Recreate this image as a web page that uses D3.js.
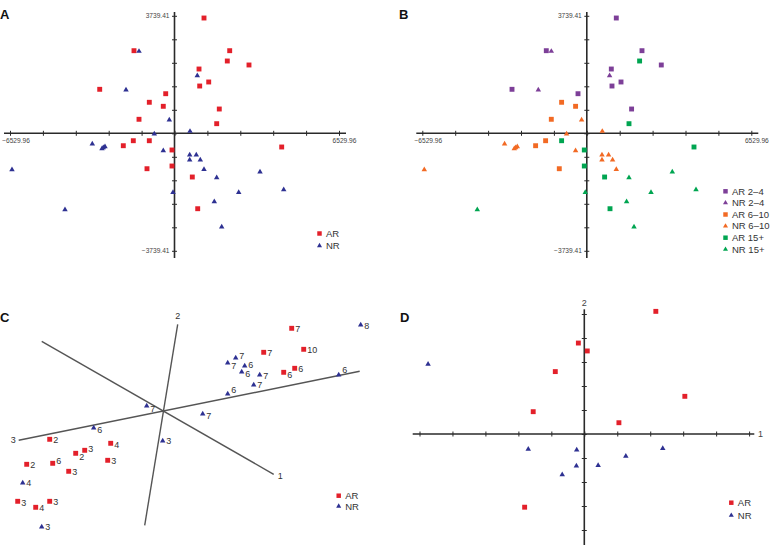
<!DOCTYPE html>
<html><head><meta charset="utf-8">
<script src="https://cdn.jsdelivr.net/npm/d3@7"></script>
<style>
html,body{margin:0;padding:0;background:#fff;}
svg{display:block;font-family:"Liberation Sans",Arial,sans-serif;}
</style></head>
<body><svg id="chart" width="772" height="545"></svg>
<script>
// ---------- Data (panels A and B) ----------
const axisMaxX = 6529.96;
const axisMaxY = 3739.41;
const arX = [1171,-1608,2191,2096,2957,973,1358,-2969,1000,-349,-1000,-445,1778,-1409,1675,4255,-2032,-1635,-1000,-99,-99,-1092,707,921];
const arY = [3669,2629,2629,2301,2174,2046,1633,1400,1505,1260,987,859,773,446,306,-436,-395,-236,-236,-531,-1041,-1127,-1391,-2400];
const arGroup = ["2–4","2–4","2–4","15+","2–4","2–4","2–4","2–4","2–4","2–4","6–10","6–10","2–4","6–10","15+","15+","6–10","6–10","15+","15+","15+","6–10","15+","15+"];
const nrX = [-1409,905,-1925,-206,615,-802,-3263,-2759,-2826,-2878,-445,603,865,603,1024,1171,-6451,1675,3394,4335,-60,2549,1580,-4347,1874];
const nrY = [2629,1855,1400,446,83,0,-318,-404,-436,-468,-531,-668,-668,-827,-827,-1127,-1136,-1391,-1209,-1773,-1859,-1859,-2155,-2409,-2960];
const nrGroup = ["2–4","2–4","2–4","6–10","6–10","6–10","6–10","6–10","6–10","6–10","6–10","6–10","6–10","6–10","6–10","6–10","6–10","15+","15+","15+","15+","15+","15+","15+","15+"];
const groups = ["2–4","6–10","15+"];
const classes = ["AR","NR"];

// ---------- Data (panel C) ----------
const cArX = [12.9,10.1,14.1,13.2,12.1,-11.3,-5.2,-8.7,-7.8,-13.6,-11.0,-5.5,-9.4,-14.5,-11.3,-12.7];
const cArY = [8.3,5.9,6.2,4.3,3.9,-2.8,-3.2,-4.2,-3.9,-5.3,-5.2,-4.9,-6.0,-9.0,-9.0,-9.6];
const cArLabel = ["7","7","10","6","6","2","4","2","3","2","6","3","3","3","3","4"];
const cNrX = [19.8,7.3,6.5,8.2,7.9,9.7,9.1,6.5,17.6,-1.6,4.0,-6.9,0.0,-14.0,-12.1];
const cNrY = [8.7,5.4,4.9,4.6,4.0,3.7,2.7,1.8,3.7,0.6,-0.2,-1.6,-2.9,-7.1,-11.5];
const cNrLabel = ["8","7","7","6","6","7","7","6","6","7","7","6","3","4","3"];
const cAxisNames = ["1","2","3"];
const cAxisStartX = [-12.1,1.5,-14.4];
const cAxisStartY = [7.0,8.7,-2.9];
const cAxisEndX = [11.1,-1.8,19.7];
const cAxisEndY = [-6.3,-11.4,4.0];

// ---------- Data (panel D) ----------
const dArX = [2.17,-0.18,0.09,-0.88,3.05,-1.55,1.05,-1.81];
const dArY = [5.11,3.79,3.46,2.60,1.57,0.93,0.47,-3.05];
const dNrX = [-4.74,-1.70,-0.23,2.38,1.26,0.42,-0.24,-0.67];
const dNrY = [2.93,-0.61,-0.64,-0.58,-0.90,-1.28,-1.30,-1.67];
const dTicks = [-5,-4,-3,-2,-1,0,1,2,3,4,5];

// ---------- Styles ----------
const classColor = {AR:"#e3202a", NR:"#2e3192"};
const groupColor = {"2–4":"#7d3f98","6–10":"#f26a24","15+":"#00a551"};
const axisColor = "#2a2a2a";
// vertical nudges (px) of the point labels in panel C, as placed in the original
const cArLabelNudge = [0,0,0,0,2,0,1,3.3,-1.3,0,-2.3,0,0,1.3,0,0];
const cNrLabelNudge = [1,-2,3.7,-1,2.5,1,0,-3.7,-4.3,3,2.3,2,0.7,0,0];

const svg = d3.select("#chart");
const sq = d3.symbol().type(d3.symbolSquare).size(24);
const tri = d3.symbol().type(d3.symbolTriangle).size(13);
const sqL = d3.symbol().type(d3.symbolSquare).size(20);
const triL = d3.symbol().type(d3.symbolTriangle).size(11);

function crossAxes(g, x, y, xTicks, yTicks, hExt, vExt){
  const x0 = x(0), y0 = y(0);
  g.append("line").attr("x1",hExt[0]).attr("x2",hExt[1]).attr("y1",y0).attr("y2",y0)
    .attr("stroke",axisColor).attr("stroke-width",1.6);
  g.append("line").attr("x1",x0).attr("x2",x0).attr("y1",vExt[0]).attr("y2",vExt[1])
    .attr("stroke",axisColor).attr("stroke-width",1.6);
  const ax = g.append("g").attr("transform",`translate(0,${y0-2.5})`)
    .call(d3.axisBottom(x).tickValues(xTicks).tickSize(5).tickSizeOuter(0).tickFormat(""));
  ax.select(".domain").remove();
  ax.selectAll("line").attr("stroke",axisColor).attr("stroke-width",1);
  const ay = g.append("g").attr("transform",`translate(${x0+2.5},0)`)
    .call(d3.axisLeft(y).tickValues(yTicks).tickSize(5).tickSizeOuter(0).tickFormat(""));
  ay.select(".domain").remove();
  ay.selectAll("line").attr("stroke",axisColor).attr("stroke-width",1);
}

function panelLabel(txt, x, y){
  svg.append("text").attr("x",x).attr("y",y).attr("font-size",13).attr("font-weight","bold")
    .attr("fill","#111").text(txt);
}

function legend(g, items, lx, ly, step){
  items.forEach((it,i)=>{
    const yy = ly + i*step;
    g.append("path").attr("d", it.cls==="AR"?sqL:triL).attr("transform",`translate(${lx},${yy})`).attr("fill",it.color);
    g.append("text").attr("x",lx+6.5).attr("y",yy+3.3).attr("font-size",9.5).attr("fill","#333").text(it.label);
  });
}

function scatterAB(ox, colorFn, legendItems, legendX, legendY0, legendStep){
  const x = d3.scaleLinear().domain([-axisMaxX, axisMaxX]).range([ox+10, ox+339]);
  const y = d3.scaleLinear().domain([-axisMaxY, axisMaxY]).range([250.8, 15.8]);
  const g = svg.append("g");
  const xt = d3.range(11).map(i => -axisMaxX + i*axisMaxX/5);
  const yt = d3.range(11).map(i => -axisMaxY + i*axisMaxY/5);
  crossAxes(g, x, y, xt, yt, [ox+4, ox+346], [12, 258]);
  const fmt = d3.format(".2f");
  const lab = {fill:"#444","font-size":6.6};
  const t1 = g.append("text").attr("x",x(0)-5).attr("y",y(axisMaxY)+2.3).attr("text-anchor","end").text(fmt(axisMaxY));
  const t2 = g.append("text").attr("x",x(0)-5).attr("y",y(-axisMaxY)+2.3).attr("text-anchor","end").text("−"+fmt(axisMaxY));
  const t3 = g.append("text").attr("x",Math.max(x(-axisMaxX)-3, ox+16)).attr("y",y(0)+10).attr("text-anchor","middle").text("−"+fmt(axisMaxX));
  const t4 = g.append("text").attr("x",x(axisMaxX)+5.5).attr("y",y(0)+10).attr("text-anchor","middle").text(fmt(axisMaxX));
  [t1,t2,t3,t4].forEach(t=>{Object.entries(lab).forEach(([k,v])=>t.attr(k,v));});
  g.selectAll(".ar").data(arX.map((v,i)=>({x:v,y:arY[i],grp:arGroup[i],cls:"AR"}))).join("path")
    .attr("class","ar").attr("d",sq).attr("transform",d=>`translate(${x(d.x)},${y(d.y)})`).attr("fill",colorFn);
  g.selectAll(".nr").data(nrX.map((v,i)=>({x:v,y:nrY[i],grp:nrGroup[i],cls:"NR"}))).join("path")
    .attr("class","nr").attr("d",tri).attr("transform",d=>`translate(${x(d.x)},${y(d.y)+0.6})`).attr("fill",colorFn);
  legend(g, legendItems, legendX, legendY0, legendStep);
}

// Panel A
scatterAB(0, d=>classColor[d.cls], classes.map(c=>({cls:c,label:c,color:classColor[c]})), 319.5, 233.5, 12.2);
// Panel B
const bItems = [];
groups.forEach(gr=>classes.forEach(c=>bItems.push({cls:c,label:c+" "+gr,color:groupColor[gr]})));
scatterAB(412.3, d=>groupColor[d.grp], bItems, 725.5, 191.3, 11.6);

// Panel C
(function(){
  const x = d3.scaleLinear().domain([-10,10]).range([62.7,262.7]);
  const y = d3.scaleLinear().domain([-10,10]).range([511.3,311.3]);
  const g = svg.append("g");
  cAxisNames.forEach((n,i)=>{
    g.append("line").attr("x1",x(cAxisStartX[i])).attr("y1",y(cAxisStartY[i]))
      .attr("x2",x(cAxisEndX[i])).attr("y2",y(cAxisEndY[i]))
      .attr("stroke","#555").attr("stroke-width",1.4);
  });
  g.append("text").attr("x",x(cAxisEndX[0])+4).attr("y",y(cAxisEndY[0])+5).attr("font-size",9).attr("fill","#333").text(cAxisNames[0]);
  g.append("text").attr("x",x(cAxisStartX[1])).attr("y",y(cAxisStartY[1])-5).attr("text-anchor","middle").attr("font-size",9).attr("fill","#333").text(cAxisNames[1]);
  g.append("text").attr("x",x(cAxisStartX[2])-3).attr("y",y(cAxisStartY[2])+3).attr("text-anchor","end").attr("font-size",9).attr("fill","#333").text(cAxisNames[2]);
  const ar = cArX.map((v,i)=>({x:v,y:cArY[i],l:cArLabel[i],n:cArLabelNudge[i]}));
  const nr = cNrX.map((v,i)=>({x:v,y:cNrY[i],l:cNrLabel[i],n:cNrLabelNudge[i]}));
  g.selectAll(".car").data(ar).join("path").attr("class","car").attr("d",sq).attr("transform",d=>`translate(${x(d.x)},${y(d.y)})`).attr("fill",classColor.AR);
  g.selectAll(".cnr").data(nr).join("path").attr("class","cnr").attr("d",tri).attr("transform",d=>`translate(${x(d.x)},${y(d.y)+0.6})`).attr("fill",classColor.NR);
  g.selectAll(".clab").data(ar.concat(nr)).join("text").attr("class","clab")
    .attr("x",d=>x(d.x)+3.6).attr("y",d=>y(d.y)+3.3+d.n).attr("font-size",9).attr("fill","#333").text(d=>d.l);
  legend(g, classes.map(c=>({cls:c,label:c,color:classColor[c]})), 338.7, 495.7, 10.5);
})();

// Panel D
(function(){
  const x = d3.scaleLinear().domain([-5,5]).range([419.5,749.1]);
  const y = d3.scaleLinear().domain([-5,5]).range([554,314]);
  const g = svg.append("g");
  crossAxes(g, x, y, dTicks, dTicks, [412.7, 754.3], [309.3, 560]);
  g.append("text").attr("x",x(0)).attr("y",306).attr("text-anchor","middle").attr("font-size",9).attr("fill","#444").text("2");
  g.append("text").attr("x",758).attr("y",y(0)+3.3).attr("font-size",9).attr("fill","#444").text("1");
  g.selectAll(".dar").data(dArX.map((v,i)=>({x:v,y:dArY[i]}))).join("path").attr("class","dar").attr("d",sq).attr("transform",d=>`translate(${x(d.x)},${y(d.y)})`).attr("fill",classColor.AR);
  g.selectAll(".dnr").data(dNrX.map((v,i)=>({x:v,y:dNrY[i]}))).join("path").attr("class","dnr").attr("d",tri).attr("transform",d=>`translate(${x(d.x)},${y(d.y)+0.6})`).attr("fill",classColor.NR);
  legend(g, classes.map(c=>({cls:c,label:c,color:classColor[c]})), 731.3, 502.7, 12.6);
})();

panelLabel("A", 0, 19);
panelLabel("B", 399, 19);
panelLabel("C", 0, 322);
panelLabel("D", 400, 322);
</script></body></html>
